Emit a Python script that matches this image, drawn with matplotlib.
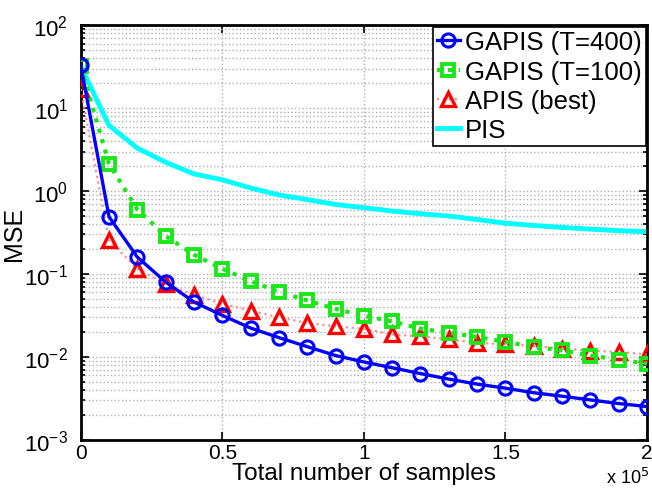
import numpy as np
import matplotlib
matplotlib.use("Agg")
import matplotlib.pyplot as plt
from matplotlib.ticker import FixedLocator, FuncFormatter, LogLocator, NullFormatter

plt.rcParams['font.family'] = ['Liberation Sans', 'DejaVu Sans']

samples = [i * 1e4 for i in range(21)]

gapis_400 = [33, 0.49, 0.160, 0.080, 0.046, 0.0317, 0.0223, 0.0171, 0.0133, 0.0104,
             0.0087, 0.0074, 0.0063, 0.0054, 0.0047, 0.0042, 0.0037, 0.00336, 0.00303,
             0.00274, 0.00252]
gapis_100 = [32, 2.13, 0.60, 0.287, 0.171, 0.116, 0.082, 0.061, 0.048, 0.038,
             0.0312, 0.0269, 0.0219, 0.0196, 0.0174, 0.0152, 0.0132, 0.0120, 0.0104,
             0.0093, 0.0083]
apis_best = [17.1, 0.254, 0.116, 0.076, 0.056, 0.044, 0.036, 0.030, 0.0257, 0.0234,
             0.0219, 0.0187, 0.0177, 0.0163, 0.0148, 0.0142, 0.0136, 0.0126, 0.0119,
             0.0115, 0.0107]
pis = [32, 6.2, 3.30, 2.23, 1.61, 1.37, 1.09, 0.90, 0.79, 0.69,
       0.63, 0.574, 0.533, 0.50, 0.455, 0.41, 0.385, 0.365, 0.348, 0.333, 0.324]

labels = ['GAPIS (T=400)', 'GAPIS (T=100)', 'APIS (best)', 'PIS']
xtick_vals = [0, 0.5e5, 1e5, 1.5e5, 2e5]

fig = plt.figure(figsize=(6.52, 4.89), dpi=100)
ax = fig.add_axes([0.1238, 0.0985, 0.8685, 0.8477])

ax.plot(samples, pis, color=(0, 1, 1), lw=3.5, zorder=2, label=labels[3])
ax.plot(samples, apis_best, color=(1, 0.55, 0.55), ls=':', lw=1.6, marker='^',
        ms=10.5, mfc='none', mec='red', mew=2.4, zorder=3, label=labels[2])
ax.plot(samples, gapis_100, color=(0.1, 0.9, 0.1), ls=':', lw=3.0, dashes=(1, 1.6),
        marker='s', ms=9, mfc='none', mec=(0.1, 0.9, 0.1), mew=2.8, zorder=4, label=labels[1])
ax.plot(samples, gapis_400, color=(0, 0, 1), lw=2.4, marker='o', ms=9.5, mfc='none',
        mec=(0, 0, 1), mew=2.2, zorder=5, label=labels[0])

ax.set_yscale('log')
ax.set_xlim(0, 2e5)
ax.set_ylim(1e-3, 1e2)

ax.xaxis.set_major_locator(FixedLocator(xtick_vals))
ax.xaxis.set_major_formatter(FuncFormatter(lambda v, p: ('%g' % (v / 1e5))))
ax.yaxis.set_major_locator(LogLocator(base=10, numticks=10))
ax.yaxis.set_minor_locator(LogLocator(base=10, subs=np.arange(2, 10), numticks=50))
ax.yaxis.set_minor_formatter(NullFormatter())

ax.grid(True, which='major', axis='both', color='#b0b0b0', ls=':', lw=1.0)
ax.grid(True, which='minor', axis='y', color='#b0b0b0', ls=':', lw=1.0)
ax.set_axisbelow(True)

ax.tick_params(which='both', direction='in', top=True, right=True, labelsize=16, width=1.2)
ax.tick_params(axis='x', labelsize=15, pad=2)
ax.tick_params(which='major', length=6)
ax.tick_params(which='minor', length=3)
ax.tick_params(axis='y', pad=9)
for s in ax.spines.values():
    s.set_linewidth(2.0)

ax.set_xlabel('Total number of samples', fontsize=17.5, labelpad=0)
ax.set_ylabel('MSE', fontsize=18, labelpad=-1)
fig.text(0.995, 0.002, 'x 10$^5$', fontsize=13, ha='right', va='bottom')

handles, labs = ax.get_legend_handles_labels()
order = [3, 2, 1, 0]
leg = ax.legend([handles[i] for i in order], [labs[i] for i in order], loc='upper right',
                fontsize=18.5, handlelength=0.9, handletextpad=0.2, borderpad=0.15,
                labelspacing=0.2, borderaxespad=0.05, fancybox=False, framealpha=1,
                edgecolor='black')
leg.get_frame().set_linewidth(1.2)

fig.savefig('out.png', dpi=100)
